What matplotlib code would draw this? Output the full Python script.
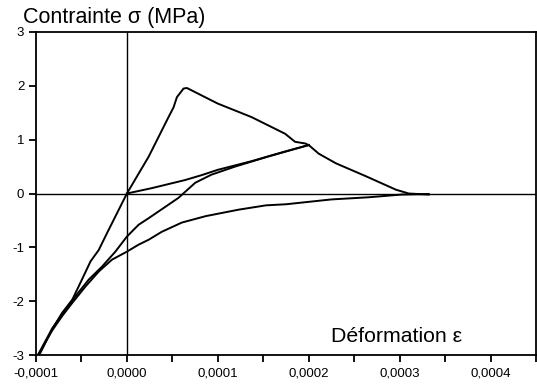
import matplotlib
matplotlib.use("Agg")
import matplotlib.pyplot as plt
from matplotlib.ticker import FuncFormatter, MultipleLocator

plt.rcParams['font.family'] = ['Liberation Sans', 'DejaVu Sans']

# --------------------------------------------------
# Data
# --------------------------------------------------
# loading up to peak, then softening back to zero
load_eps = [-0.0000978, -0.0000952, -0.0000824, -0.0000714, -0.00006, -0.0000495, -0.00004,
            -0.000031, -0.000022, -0.000011, 0.0,
            0.0000129, 0.0000238, 0.0000348, 0.0000458, 0.0000513, 0.000055, 0.0000623,
            0.000066, 0.0001, 0.000137, 0.000174, 0.000185, 0.000196, 0.0002,
            0.000211, 0.00023, 0.000263, 0.000296, 0.00031, 0.000332]
load_sig = [-3.0, -2.96, -2.53, -2.22, -1.97, -1.6, -1.26,
            -1.05, -0.74, -0.37, 0.0,
            0.37, 0.68, 1.05, 1.42, 1.6, 1.79, 1.95,
            1.96, 1.67, 1.42, 1.11, 0.96, 0.93, 0.9,
            0.74, 0.56, 0.32, 0.07, 0.0, -0.02]

# reloading from origin
reload_eps = [0.0, 0.0000275, 0.000064, 0.000082, 0.0001, 0.000137, 0.000174, 0.0002]
reload_sig = [0.0, 0.1, 0.25, 0.34, 0.44, 0.6, 0.78, 0.9]

# unloading down to compression
unload_eps = [0.0002, 0.000156, 0.000119, 0.000093, 0.0000752, 0.0000568, 0.0000238,
              0.0000129, 0.0, -0.0000127, -0.0000275, -0.000042, -0.0000567,
              -0.0000677, -0.000082, -0.0000978]
unload_sig = [0.9, 0.69, 0.5, 0.35, 0.2, -0.08, -0.46,
              -0.58, -0.8, -1.08, -1.36, -1.6, -1.91,
              -2.16, -2.5, -3.0]

# lower branch back towards zero
lower_eps = [-0.0000978, -0.0000824, -0.0000714, -0.00006, -0.0000457, -0.000031,
             -0.0000165, 0.0, 0.0000129, 0.0000238, 0.0000385, 0.0000604, 0.0000868,
             0.000123, 0.000153, 0.000175, 0.000225, 0.000266, 0.000302, 0.000332]
lower_sig = [-3.0, -2.55, -2.28, -2.03, -1.73, -1.45,
             -1.23, -1.08, -0.95, -0.86, -0.71, -0.54, -0.42,
             -0.3, -0.22, -0.2, -0.11, -0.07, -0.02, -0.01]

# --------------------------------------------------
# Plot
# --------------------------------------------------
fig = plt.figure(figsize=(5.37, 3.87), dpi=100)
ax = fig.add_axes([36 / 537, 32 / 387, 500 / 537, 323 / 387])

ax.axhline(0, color='black', lw=1.0)
ax.axvline(0, color='black', lw=1.0)

for xs, ys in [(load_eps, load_sig), (reload_eps, reload_sig),
               (unload_eps, unload_sig), (lower_eps, lower_sig)]:
    ax.plot(xs, ys, color='black', lw=1.4)

ax.set_xlim(-0.0001, 0.00045)
ax.set_ylim(-3, 3)

ax.xaxis.set_major_locator(MultipleLocator(0.0001))
ax.xaxis.set_minor_locator(MultipleLocator(0.00005))
ax.yaxis.set_major_locator(MultipleLocator(1))
ax.xaxis.set_major_formatter(FuncFormatter(lambda v, p: f"{v:.4f}".replace('.', ',').replace('-0,0000', '0,0000')))
ax.yaxis.set_major_formatter(FuncFormatter(lambda v, p: f"{v:.0f}"))

ax.tick_params(which='both', direction='out', length=5, width=1.3, labelsize=9.5, colors='black')
ax.tick_params(axis='x', pad=4)
for s in ax.spines.values():
    s.set_linewidth(1.3)

fig.text(23 / 537, 1 - 17 / 387, "Contrainte σ (MPa)", fontsize=15.5, va='center', ha='left')
ax.text(0.000224, -2.66, "Déformation ε", fontsize=15.3, ha='left', va='center')

fig.savefig("out.png", dpi=100)
